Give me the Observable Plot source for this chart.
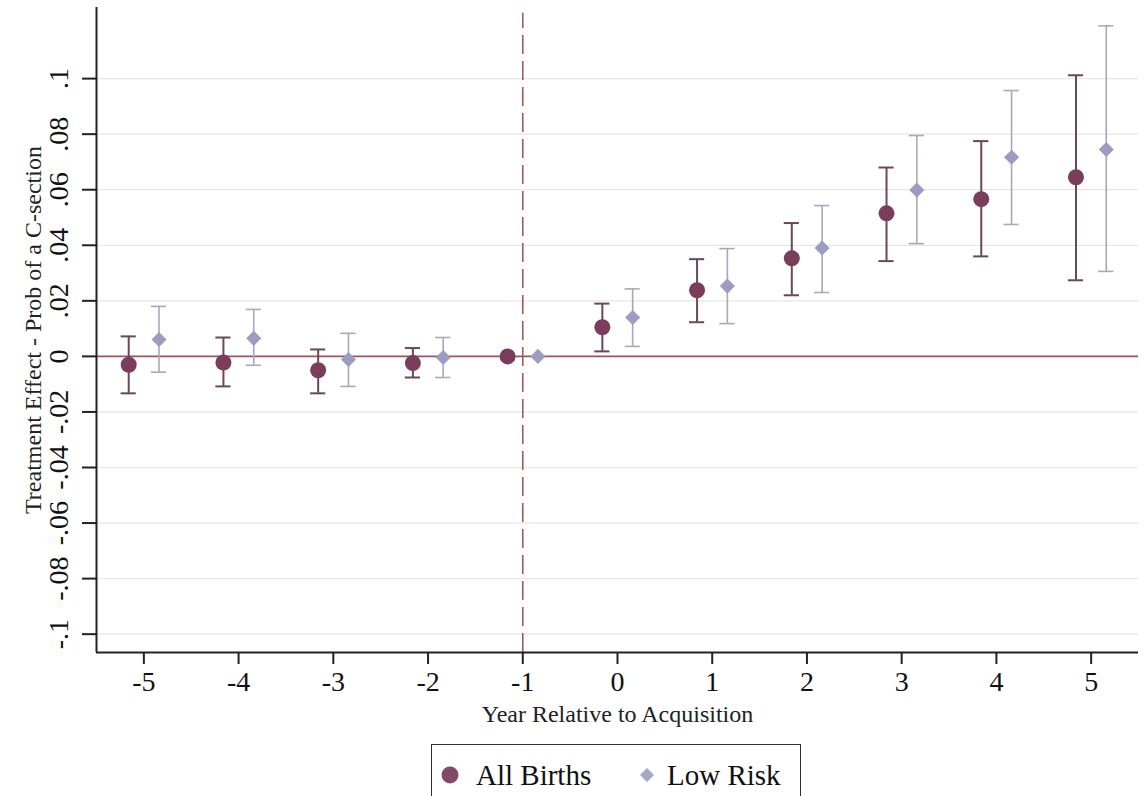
<!DOCTYPE html>
<html>
<head>
<meta charset="utf-8">
<script src="https://cdn.jsdelivr.net/npm/d3@7"></script>
<script src="https://cdn.jsdelivr.net/npm/@observablehq/plot@0.6"></script>
<style>
  html, body { margin: 0; padding: 0; background: #fff; overflow: hidden; }
  body { width: 1145px; height: 796px; font-family: "Liberation Serif", "Times New Roman", serif; }
  #chart svg { display: block; }
  #legend {
    position: absolute; left: 431px; top: 744px; width: 370px; height: 70px;
    border: 1.5px solid #333; box-sizing: border-box; background: #fff;
  }
  .item { position: absolute; top: 13px; font-size: 29px; color: #111; line-height: 34px; white-space: nowrap; }
  .item svg { position: absolute; top: 7px; }
</style>
</head>
<body>
<div id="chart"></div>
<div id="legend">
  <div class="item" style="left:44px;">All Births<svg style="left:-36px" width="20" height="20"><circle cx="10" cy="10" r="8.5" fill="#83486a"/></svg></div>
  <div class="item" style="left:235px;">Low Risk<svg style="left:-30px" width="20" height="20"><path d="M10 3 L17 10 L10 17 L3 10 Z" fill="#a7a6c4"/></svg></div>
</div>
<script>
// ---- data ----
const years   = [-5, -4, -3, -2, -1, 0, 1, 2, 3, 4, 5];
const allEst  = [-0.0030, -0.0022, -0.0050, -0.0024, 0, 0.0105, 0.0238, 0.0353, 0.0515, 0.0566, 0.0645];
const allLo   = [-0.0133, -0.0108, -0.0133, -0.0076, null, 0.0018, 0.0123, 0.0220, 0.0343, 0.0360, 0.0274];
const allHi   = [ 0.0072,  0.0068,  0.0025,  0.0030, null, 0.0190, 0.0350, 0.0480, 0.0680, 0.0775, 0.1012];
const lowEst  = [ 0.0061,  0.0065, -0.0011, -0.0004, 0, 0.0140, 0.0253, 0.0390, 0.0599, 0.0717, 0.0745];
const lowLo   = [-0.0057, -0.0032, -0.0108, -0.0076, null, 0.0036, 0.0118, 0.0230, 0.0406, 0.0475, 0.0306];
const lowHi   = [ 0.0180,  0.0169,  0.0083,  0.0068, null, 0.0243, 0.0388, 0.0543, 0.0795, 0.0957, 0.1190];
const yTicks      = [-0.1, -0.08, -0.06, -0.04, -0.02, 0, 0.02, 0.04, 0.06, 0.08, 0.1];
const yTickLabels = ["-.1", "-.08", "-.06", "-.04", "-.02", "0", ".02", ".04", ".06", ".08", ".1"];
const xTicks      = [-5, -4, -3, -2, -1, 0, 1, 2, 3, 4, 5];
const xTickLabels = ["-5", "-4", "-3", "-2", "-1", "0", "1", "2", "3", "4", "5"];
const xTitle = "Year Relative to Acquisition";
const yTitle = "Treatment Effect - Prob of a C-section";
const eventYear = -1;

// ---- build tables ----
const off = 0.16, cap = 0.08;
const allBirths = years.map((y, i) => ({x: y - off, est: allEst[i], lo: allLo[i], hi: allHi[i]}));
const lowRisk   = years.map((y, i) => ({x: y + off, est: lowEst[i], lo: lowLo[i], hi: lowHi[i]}));
const allCI = allBirths.filter(d => d.lo != null);
const lowCI = lowRisk.filter(d => d.lo != null);

const xDomain = [-5.5, 5.5];
const yDomain = [-0.1066, 0.1256];

const allCol = "#7a3d5c", allBar = "#6a4858";
const lowCol = "#9c9cc2", lowBar = "#a9a7bb";

const chart = Plot.plot({
  width: 1145,
  height: 736,
  marginLeft: 96,
  marginRight: 7,
  marginTop: 7,
  marginBottom: 84,
  style: {fontFamily: "Liberation Serif, Times New Roman, serif", background: "#fff", color: "#222"},
  x: {domain: xDomain},
  y: {domain: yDomain},
  marks: [
    Plot.gridY(yTicks, {stroke: "#e6e6e6", strokeOpacity: 1, strokeWidth: 1.2}),
    Plot.ruleY([0], {stroke: "#a2525f", strokeWidth: 1.6}),
    Plot.ruleX([eventYear], {stroke: "#9d5a5f", strokeWidth: 1.6, strokeDasharray: "19,7", y1: yDomain[0], y2: 0.1235}),
    // Low Risk CIs
    Plot.ruleX(lowCI, {x: "x", y1: "lo", y2: "hi", stroke: lowBar, strokeWidth: 1.6}),
    Plot.ruleY(lowCI, {y: "lo", x1: d => d.x - cap, x2: d => d.x + cap, stroke: lowBar, strokeWidth: 1.6}),
    Plot.ruleY(lowCI, {y: "hi", x1: d => d.x - cap, x2: d => d.x + cap, stroke: lowBar, strokeWidth: 1.6}),
    // All Births CIs
    Plot.ruleX(allCI, {x: "x", y1: "lo", y2: "hi", stroke: allBar, strokeWidth: 2}),
    Plot.ruleY(allCI, {y: "lo", x1: d => d.x - cap, x2: d => d.x + cap, stroke: allBar, strokeWidth: 2}),
    Plot.ruleY(allCI, {y: "hi", x1: d => d.x - cap, x2: d => d.x + cap, stroke: allBar, strokeWidth: 2}),
    // points
    Plot.dot(allBirths, {x: "x", y: "est", r: 8, fill: allCol, stroke: "none"}),
    Plot.dot(lowRisk, {x: "x", y: "est", r: 6.8, symbol: "diamond2", fill: lowCol, stroke: "none"}),
    // axes
    Plot.ruleX([xDomain[0]], {stroke: "#222", strokeWidth: 2}),
    Plot.ruleY([yDomain[0]], {stroke: "#222", strokeWidth: 2}),
    Plot.axisY(yTicks, {tickSize: 14, tickFormat: () => "", stroke: "#222", strokeWidth: 2, label: null}),
    Plot.text(yTicks, {y: d => d, text: (d, i) => yTickLabels[i], frameAnchor: "left", dx: -37, rotate: -90,
      textAnchor: "middle", lineAnchor: "middle", fontSize: 28, fill: "#111"}),
    Plot.axisX(xTicks, {tickSize: 12, tickPadding: 7, tickFormat: (d, i) => xTickLabels[i], fontSize: 28,
      stroke: "#222", strokeWidth: 2, fill: "#111", label: null}),
    Plot.text([xTitle], {frameAnchor: "bottom", dy: 69, textAnchor: "middle", lineAnchor: "bottom", fontSize: 24, fill: "#222"}),
    Plot.text([yTitle], {frameAnchor: "left", dx: -63, rotate: -90, textAnchor: "middle", lineAnchor: "middle", fontSize: 24, fill: "#222"})
  ]
});
document.getElementById("chart").appendChild(chart);
</script>
</body>
</html>
